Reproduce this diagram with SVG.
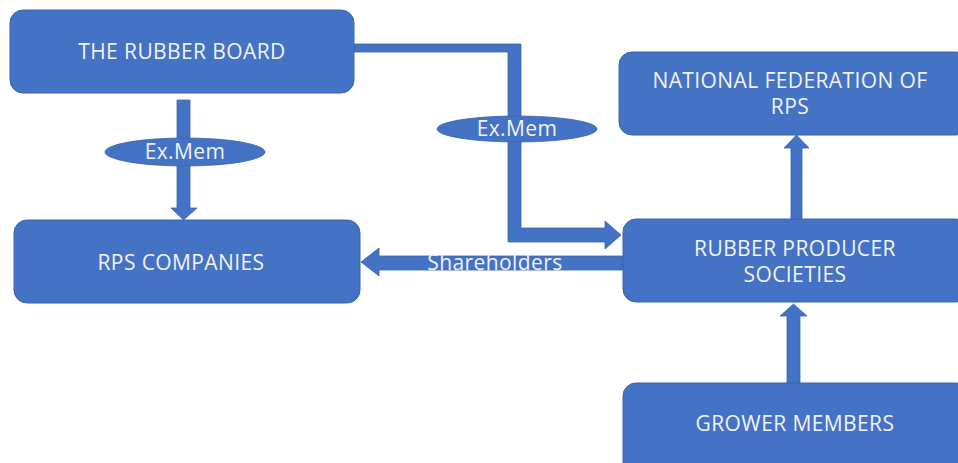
<svg xmlns="http://www.w3.org/2000/svg" width="958" height="463" viewBox="0 0 958 463">
<style>
.box{fill:#4472C4;stroke:#3A64B0;stroke-width:1}
.arr{fill:#4472C4;stroke:#3A64B0;stroke-width:0.8}
.t{fill:#F2F2F2;font-family:"Open Sans","Liberation Sans",sans-serif;font-size:21px;letter-spacing:0.4px;text-anchor:middle}
</style>
<rect width="958" height="463" fill="#FFFFFF"/>
<g id="connectors">
<path class="arr" d="M177,100 H190 V208 H197 L183.5,220 L171,208 H177 Z"/>
<path class="arr" d="M354,44 H521 V228 H605 V221 L621,235 L605,249 V242 H508 V52 H354 Z"/>
<path class="arr" d="M623,256 V270 H379 V276 L361,262 L379,248 V256 Z"/>
<path class="arr" d="M791,219 V148 H784 L796.5,135 L809,148 H802 V219 Z"/>
<path class="arr" d="M787,383 V316 H780 L793.5,304 L807,316 H800 V383 Z"/>
</g>
<g id="label-exmem-1">
<ellipse class="arr" cx="185" cy="152" rx="80" ry="14"/>
<text class="t" x="185" y="159">Ex.Mem</text>
</g>
<g id="label-exmem-2">
<ellipse class="arr" cx="517" cy="129" rx="80" ry="13"/>
<text class="t" x="517" y="136">Ex.Mem</text>
</g>
<g id="label-shareholders">
<text class="t" x="495" y="270">Shareholders</text>
</g>
<g id="rubber-board">
<rect class="box" x="10" y="10" width="344" height="83" rx="13"/>
<text class="t" x="182" y="59">THE RUBBER BOARD</text>
</g>
<g id="rps-companies">
<rect class="box" x="14" y="220" width="346" height="83" rx="13"/>
<text class="t" x="181" y="270">RPS COMPANIES</text>
</g>
<g id="national-federation">
<rect class="box" x="619" y="52" width="350" height="83" rx="13"/>
<text class="t" x="790" y="88">NATIONAL FEDERATION OF</text>
<text class="t" x="790" y="114">RPS</text>
</g>
<g id="rubber-producer-societies">
<rect class="box" x="623" y="219" width="346" height="83" rx="13"/>
<text class="t" x="795" y="256">RUBBER PRODUCER</text>
<text class="t" x="795" y="282">SOCIETIES</text>
</g>
<g id="grower-members">
<rect class="box" x="623" y="383" width="346" height="100" rx="13"/>
<text class="t" x="795" y="431">GROWER MEMBERS</text>
</g>
</svg>
